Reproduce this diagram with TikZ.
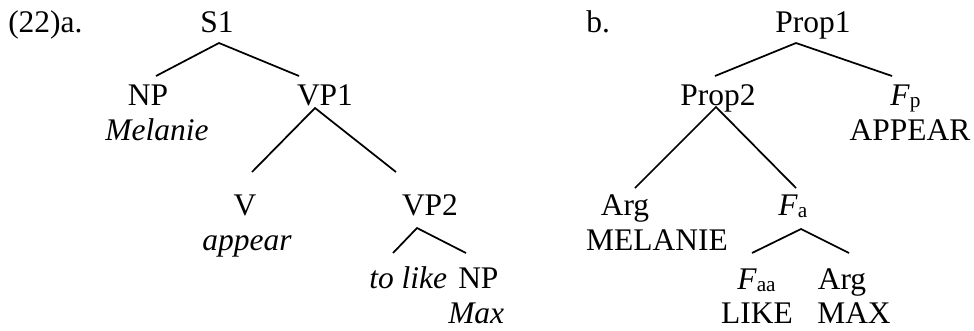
\documentclass[tikz,border=0pt]{standalone}
\usepackage{fontspec}
\setmainfont{Liberation Serif}
\newcommand\lsub[1]{\raisebox{-2.2pt}{\fontsize{16}{16}\selectfont #1}}
\begin{document}
\begin{tikzpicture}[x=0.75pt,y=-0.75pt,
  lbl/.style={anchor=base,inner sep=0pt,font=\fontsize{23.6}{28}\selectfont},
  br/.style={line width=1.3pt}]
\useasboundingbox (0,0) rectangle (974,330);
% tree a
\node[lbl,anchor=base west] (exa) at (8,32) {(22)a.};
\node[lbl] (S1) at (217,32) {S1};
\node[lbl] (NP) at (148,105) {NP};
\node[lbl] (Mel) at (157,140) {\itshape Melanie};
\node[lbl] (VP1) at (325,105) {VP1};
\node[lbl] (V) at (245,215) {V};
\node[lbl] (app) at (247,250) {\itshape appear};
\node[lbl] (VP2) at (430,215) {VP2};
\node[lbl,anchor=base west] (tl) at (369,288) {\itshape to like};
\node[lbl,anchor=base west] (NP2) at (458,288) {NP};
\node[lbl,anchor=base west] (Max) at (448,323) {\itshape Max};
\coordinate (S1a) at (219,43);
\coordinate (NPt) at (156,76);
\coordinate (VP1t) at (299,76);
\coordinate (VP1a) at (315,108);
\coordinate (Vt) at (252,172);
\coordinate (VP2t) at (396,172);
\coordinate (VP2a) at (417,228);
\coordinate (tlt) at (393,253);
\coordinate (NP2t) at (466,253);
\draw[br] (NPt) -- (S1a) -- (VP1t);
\draw[br] (Vt) -- (VP1a) -- (VP2t);
\draw[br] (tlt) -- (VP2a) -- (NP2t);
% tree b
\node[lbl,anchor=base west] (exb) at (586,32) {b.};
\node[lbl] (P1) at (813,32) {Prop1};
\node[lbl] (P2) at (718,105) {Prop2};
\node[lbl,anchor=base west] (Fp) at (890,105) {\itshape F\/\upshape\lsub{p}};
\node[lbl] (APP) at (910,140) {APPEAR};
\node[lbl] (Arg1) at (625,215) {Arg};
\node[lbl] (MEL) at (657,250) {MELANIE};
\node[lbl,anchor=base west] (Fa) at (778,215) {\itshape F\/\upshape\lsub{a}};
\node[lbl,anchor=base west] (Faa) at (737,289) {\itshape F\/\upshape\lsub{aa}};
\node[lbl] (Arg2) at (842,289) {Arg};
\node[lbl] (LIKE) at (757,323) {LIKE};
\node[lbl] (MAX) at (854,323) {MAX};
\coordinate (P1a) at (796,43);
\coordinate (P2t) at (715,76);
\coordinate (Fpt) at (892,76);
\coordinate (P2a) at (716,107);
\coordinate (Arg1t) at (635,188);
\coordinate (Fat) at (796,188);
\coordinate (Faa_) at (801,229);
\coordinate (Faat) at (752,253);
\coordinate (Arg2t) at (849,253);
\draw[br] (P2t) -- (P1a) -- (Fpt);
\draw[br] (Arg1t) -- (P2a) -- (Fat);
\draw[br] (Faat) -- (Faa_) -- (Arg2t);
\end{tikzpicture}
\end{document}
